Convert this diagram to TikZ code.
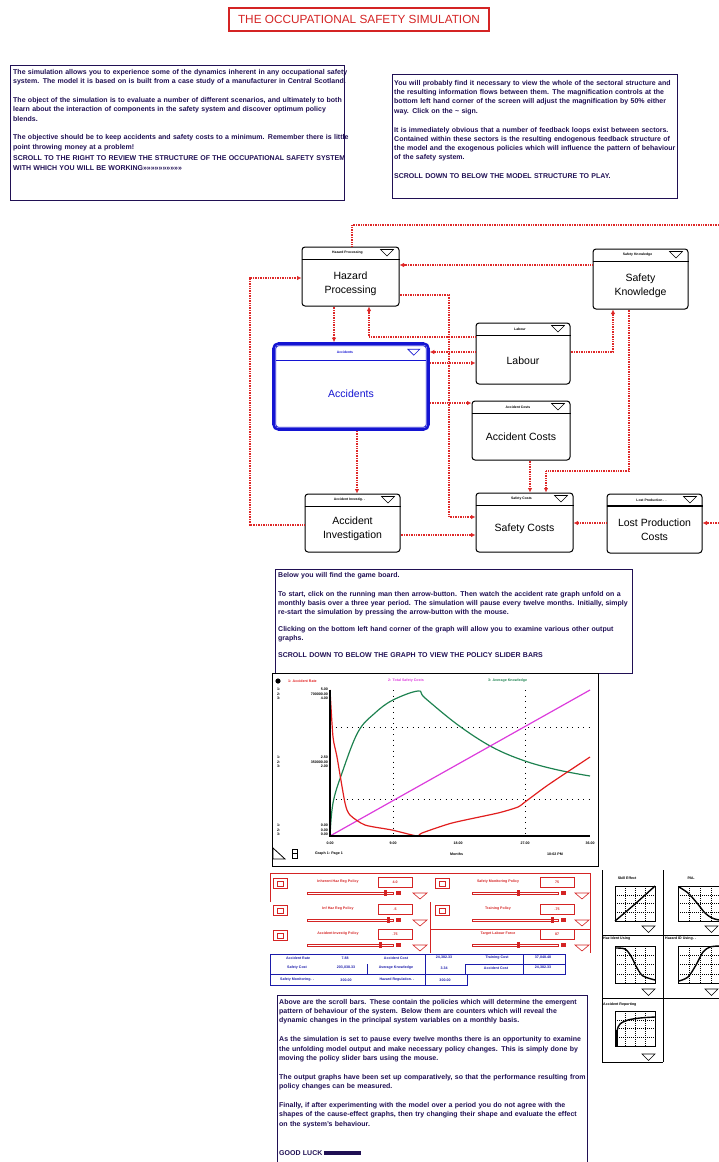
\documentclass[tikz,border=0pt]{standalone}
\usepackage{fontspec}
\setsansfont{Liberation Sans}
\usetikzlibrary{arrows.meta, positioning, calc}

\definecolor{ink}{RGB}{32,16,84}
\definecolor{linkred}{RGB}{222,40,40}
\definecolor{accblue}{RGB}{20,20,210}
\definecolor{ctrred}{RGB}{212,36,36}
\definecolor{ctrblue}{RGB}{28,28,170}
\definecolor{rateline}{RGB}{225,30,30}
\definecolor{costline}{RGB}{220,60,220}
\definecolor{knowline}{RGB}{30,130,80}

\hyphenpenalty=10000
\exhyphenpenalty=10000

% header strip of a sector window
\newcommand\pickdown[1]{\draw[line width=0.6pt, fill=white] (#1) -- ++(13,0) -- ++(-6.5,6.5) -- cycle;}
\newcommand\sechead[2]{%
  \draw[line width=0.8pt] ([yshift=-13pt]#1.north west) -- ([yshift=-13pt]#1.north east);
  \node[headtxt] (#1head) at ([yshift=-6.5pt,xshift=-3pt]#1.north) {#2};
  \pickdown{[xshift=-19pt,yshift=-3pt]#1.north east}}
% little cause-effect graph
\newcommand\minichart[4]{%
  \draw[line width=0.8pt] (#1,#2) rectangle ++(#3,#4);
  \foreach \q in {0.25,0.5,0.75}{
    \draw[line width=0.5pt, dash pattern=on 0.8pt off 1.2pt] ({#1+\q*#3},#2) -- ++(0,#4);
    \draw[line width=0.5pt, dash pattern=on 0.8pt off 1.2pt] (#1,{#2+\q*#4}) -- ++(#3,0);}}
\newcommand\pgap{\\[9.6pt]}

\begin{document}
\begin{tikzpicture}[x=1pt, y=-1pt,
  panel/.style={draw=ink, line width=1pt, anchor=north west, inner sep=0pt},
  blurb/.style={anchor=north west, inner sep=0pt, align=left, text=ink,
                font=\sffamily\bfseries\fontsize{7}{9.3}\selectfont},
  sector/.style={draw, line width=1pt, rounded corners=3pt, fill=white, inner sep=0pt},
  headtxt/.style={font=\sffamily\bfseries\fontsize{3.4}{4}\selectfont, inner sep=0pt},
  sectxt/.style={font=\sffamily\fontsize{10.5}{14}\selectfont, align=center, inner sep=0pt},
  link/.style={draw=linkred, line width=1.3pt, dash pattern=on 1pt off 0.7pt,
               -{Latex[length=4.5pt,width=4.5pt]}},
  smalltxt/.style={font=\sffamily\bfseries\fontsize{3.6}{4.6}\selectfont, inner sep=0pt},
  slidertxt/.style={smalltxt, text=ctrred},
  countertxt/.style={smalltxt, text=ctrblue},
  gridline/.style={line width=0.8pt, dash pattern=on 1pt off 4.5pt},
  curve/.style={line width=1.2pt}
]
  \useasboundingbox (0,0) rectangle (719,1162);
  \clip (0,0) rectangle (719,1162);

  \node[draw=ctrred, line width=1.3pt, text=ctrred, inner sep=0pt,
        font=\sffamily\fontsize{11.8}{13}\selectfont,
        minimum width=260, minimum height=23] (title) at (359,19.5)
        {THE OCCUPATIONAL SAFETY SIMULATION};

  % introduction texts
  \node[panel, minimum width=334, minimum height=135] (introbox) at (10,65) {};
  \node[blurb, text width=336] (intro) at (13,69)
    {The simulation allows you to experience some of the dynamics inherent in any occupational safety
     system. The model it is based on is built from a case study of a manufacturer in Central Scotland.\pgap
     The object of the simulation is to evaluate a number of different scenarios, and ultimately to both
     learn about the interaction of components in the safety system and discover optimum policy blends.\pgap
     The objective should be to keep accidents and safety costs to a minimum. Remember there is
     little point throwing money at a problem!\\[2.4pt]
     SCROLL TO THE RIGHT TO REVIEW THE STRUCTURE OF THE OCCUPATIONAL SAFETY
     SYSTEM WITH WHICH YOU WILL BE WORKING>>>>>>>>>>>>>>>>>>>>};

  \node[panel, minimum width=285, minimum height=124] (viewbox) at (392,74) {};
  \node[blurb, text width=282] (view) at (394,80)
    {You will probably find it necessary to view the whole of the sectoral structure and
     the resulting information flows between them. The magnification controls at the
     bottom left hand corner of the screen will adjust the magnification by 50\% either
     way. Click on the \textasciitilde\ sign.\pgap
     It is immediately obvious that a number of feedback loops exist between sectors.
     Contained within these sectors is the resulting endogenous feedback structure of
     the model and the exogenous policies which will influence the pattern of behaviour
     of the safety system.\pgap
     SCROLL DOWN TO BELOW THE MODEL STRUCTURE TO PLAY.};

  % model sectors
  \node[sector, minimum width=97, minimum height=59] (hp)  at (350.5,276.5) {};
  \node[sector, minimum width=95, minimum height=60] (sk)  at (640.5,279) {};
  \node[sector, minimum width=94, minimum height=61] (lab) at (523,353.5) {};
  \node[sector, minimum width=98, minimum height=59] (ac)  at (521,430.5) {};
  \node[sector, minimum width=95, minimum height=58] (ai)  at (352.5,523) {};
  \node[sector, minimum width=97, minimum height=59] (sc)  at (524.5,522.5) {};
  \node[sector, minimum width=95, minimum height=59] (lp)  at (654.5,523.5) {};
  \node[sector, draw=accblue, line width=2.6pt, rounded corners=5pt,
        minimum width=155, minimum height=86] (acc) at (351,386.5) {};
  \draw[accblue, line width=0.8pt, rounded corners=3pt]
    ([shift={(3.5pt,-3.5pt)}]acc.north west) rectangle ([shift={(-3.5pt,3.5pt)}]acc.south east);
  \draw[accblue, line width=0.8pt]
    ([shift={(3.5pt,-18pt)}]acc.north west) -- ([shift={(-3.5pt,-18pt)}]acc.north east);
  \node[headtxt, text=accblue] (acchead) at ([yshift=-10pt,xshift=-6pt]acc.north) {Accidents};
  \draw[accblue, line width=0.6pt, fill=white]
    ([xshift=-22pt,yshift=-7pt]acc.north east) -- ++(12,0) -- ++(-6,6) -- cycle;

  \sechead{hp}{Hazard Processing}
  \sechead{sk}{Safety Knowledge}
  \sechead{lab}{Labour}
  \sechead{ac}{Accident Costs}
  \sechead{ai}{Accident Investig. .}
  \sechead{sc}{Safety Costs}
  \sechead{lp}{Lost Production . .}
  \draw[line width=0.8pt] ([yshift=-11.5pt]lp.north west) -- ([yshift=-11.5pt]lp.north east);

  \node[sectxt] (hptxt)  at ($(hp.center)+(0,7.5)$)  {Hazard\\Processing};
  \node[sectxt] (sktxt)  at ($(sk.center)+(0,7)$)    {Safety\\Knowledge};
  \node[sectxt] (labtxt) at ($(lab.center)+(0,7)$)   {Labour};
  \node[sectxt, text=accblue] (acctxt) at ($(acc.center)+(0,7)$) {Accidents};
  \node[sectxt] (actxt)  at ($(ac.center)+(0,6)$)    {Accident Costs};
  \node[sectxt] (aitxt)  at ($(ai.center)+(0,6)$)    {Accident\\Investigation};
  \node[sectxt] (sctxt)  at ($(sc.center)+(0,6)$)    {Safety Costs};
  \node[sectxt] (lptxt)  at ($(lp.center)+(0,6.5)$)  {Lost Production\\Costs};

  % information links
  \coordinate (offtop) at (719,225);
  \coordinate (offright) at (719,523);
  \draw[link, -] (hp.north -| 352,0) |- (offtop);
  \draw[link] (sk.west |- 0,265) -- (hp.east |- 0,265);
  \draw[link] (ai.west |- 0,525) -- (250,525) |- (hp.west |- 0,278);
  \draw[link] (hp.south -| 334,0) -- (acc.north -| 334,0);
  \draw[link] (lab.west |- 0,337) -| (hp.south -| 369,0);
  \draw[link] (lab.west |- 0,352) -- (acc.east |- 0,352);
  \draw[link] (acc.east |- 0,363) -- (lab.west |- 0,363);
  \draw[link] (lab.east |- 0,352) -| (sk.south -| 613,0);
  \draw[link] (hp.east |- 0,295) -| (449,517) -- (sc.west |- 0,517);
  \draw[link] (acc.east |- 0,403) -- (ac.west |- 0,403);
  \draw[link] (acc.south -| 357,0) -- (ai.north -| 357,0);
  \draw[link] (ac.south -| 530,0) -- (sc.north -| 530,0);
  \draw[link] (sk.south -| 629,0) |- (546,471) -- (sc.north -| 546,0);
  \draw[link] (ai.east |- 0,535) -- (sc.west |- 0,535);
  \draw[link] (lp.west |- 0,523) -- (sc.east |- 0,523);
  \draw[link] (offright) -- (lp.east |- 0,523);

  % game board text
  \node[panel, minimum width=357, minimum height=104] (boardbox) at (275,569) {};
  \node[blurb, text width=352] (board) at (278,572)
    {Below you will find the game board.\pgap
     To start, click on the running man then arrow-button. Then watch the accident rate graph unfold
     on a monthly basis over a three year period. The simulation will pause every twelve months.
     Initially, simply re-start the simulation by pressing the arrow-button with the mouse.\\[7pt]
     Clicking on the bottom left hand corner of the graph will allow you to examine various other output
     graphs.\\[8pt]
     SCROLL DOWN TO BELOW THE GRAPH TO VIEW THE POLICY SLIDER BARS};

  % output graph
  \node[draw, line width=1pt, anchor=north west, inner sep=0pt,
        minimum width=326, minimum height=193] (graphwin) at (272,673) {};
  \fill (278,681) circle (2.6);
  \node[smalltxt, text=rateline, anchor=west] (leg1) at (288,681) {1: Accident Rate};
  \node[smalltxt, text=costline, anchor=west] (leg2) at (388,681) {2: Total Safety Costs};
  \node[smalltxt, text=knowline, anchor=west] (leg3) at (488,681) {3: Average Knowledge};
  \foreach \gx in {393,525}
    \draw[gridline] (\gx,690) -- (\gx,836);
  \foreach \gy in {727,799}
    \draw[gridline] (330,\gy) -- (590,\gy);
  \foreach \gy/\ta/\tb/\tc in {694/5.00/700000.00/4.00, 762/2.50/350000.00/2.00, 830/0.00/0.00/0.00}{
    \node[smalltxt, align=left, anchor=west] (ylab\gy) at (277,\gy) {1:\\2:\\3:};
    \node[smalltxt, align=right, anchor=east] (yval\gy) at (328,\gy) {\ta\\\tb\\\tc};}
  \draw[curve, knowline] plot[smooth, tension=0.6] coordinates {(330,836) (333,803) (342,773)
    (358,732) (375,713) (393,700) (418,691) (425,698) (458,725) (492,747) (525,761) (558,770) (590,776)};
  \draw[curve, costline] (330,836) -- (590,690);
  \draw[curve, rateline] plot[smooth, tension=0.4] coordinates {(330,690) (333,737) (337,757)
    (345,803) (350,815) (365,825) (392,830) (417,836) (422,833) (452,823) (498,813) (518,807)
    (525,802) (548,785) (590,757)};
  \draw[line width=1.6pt] (330,690) -- (330,836) -- (590,836);
  \foreach \lx/\lt in {330/0.00, 393/9.00, 458/18.00, 525/27.00, 590/36.00}
    \node[smalltxt] (xlab\lx) at (\lx,843) {\lt};
  \draw[line width=0.8pt] (273,848) -- (273,859) -- (285,859) -- cycle;
  \draw[line width=0.8pt] (292,849) rectangle (297,858) (292,853) -- (297,853);
  \node[smalltxt, anchor=west] (pagelab) at (315,854) {Graph 1: Page 1};
  \node[smalltxt, anchor=west] (unitlab) at (450,854) {Months};
  \node[smalltxt, anchor=west] (timelab) at (547,854) {10:02 PM};

  % policy slider bars
  \draw[ctrred, line width=0.8pt] (270,902) |- (590,873) -- (590,953);
  \draw[ctrred, line width=0.8pt] (430,902) -- (430,953) (430,929) -- (590,929);
  \foreach \ix/\lx/\ly/\vx/\val/\bx/\th/\ptxt [count=\i] in
     {273/338/882/378/4.0/307/385/Inherent Haz Reg Policy,
      273/338/909/378/.5/307/388/Inf Haz Reg Policy,
      273/338/934/378/.75/307/380/Accident Investig Policy,
      435/498/882/540/75/472/518/Safety Monitoring Policy,
      435/498/909/540/.75/472/552/Training Policy,
      0/498/934/540/87/472/518/Target Labour Force}{
    \ifnum\ix>0
      \draw[ctrred, line width=0.8pt] (\ix,\ly-4) rectangle ++(14,10);
      \draw[ctrred, line width=0.6pt] (\ix+4,\ly-1) rectangle ++(6,5);
    \fi
    \node[slidertxt] (pol\i) at (\lx,\ly) {\ptxt};
    \draw[ctrred, line width=0.8pt] (\vx,\ly-5) rectangle ++(34,10);
    \node[slidertxt] (polval\i) at (\vx+17,\ly) {\val};
    \draw[ctrred, line width=0.6pt] (\bx,\ly+10) rectangle ++(86,2);
    \fill[ctrred] (\th-1,\ly+8) rectangle ++(2.5,6);
    \fill[ctrred] (\bx+89,\ly+9) rectangle ++(5,4);
    \draw[ctrred, line width=0.6pt, fill=white] (\vx+35,\ly+11) -- ++(14,0) -- ++(-7,6) -- cycle;}

  % counters
  \draw[ctrblue, line width=0.8pt] (270,954) rectangle (565,974) (270,974) rectangle (467,985);
  \draw[ctrblue, line width=0.8pt] (425,954) -- (425,985) (523,954) -- (523,974)
    (465,964) -- (565,964) (465,964) -- (465,974) (367,964) -- (367,974);
  \foreach \cx/\cy/\ctext [count=\i] in
     {298/958/Accident Rate, 345/958/7.88, 396/958/Accident Cost, 444/958/{24,382.33},
      497/958/Training Cost, 543/958/{37,048.48},
      297/968/Safety Cost, 346/968/{203,038.33}, 396/968/Average Knowledge, 444/968/3.34,
      496/968/Accident Cost, 543/968/{24,382.33},
      297/980/Safety Monitoring. ., 346/980/300.00, 397/980/Hazard Regulation. ., 445/980/300.00}
    \node[countertxt] (ctr\i) at (\cx,\cy) {\ctext};

  % cause-effect graphs
  \draw[line width=0.8pt] (602,870) -- (602,1062) -- (663,1062) (663,870) -- (663,1062)
    (602,935) -- (719,935) (602,998) -- (719,998);
  \minichart{615}{886}{40}{35}
  \minichart{678}{886}{44}{35}
  \minichart{615}{946}{40}{37}
  \minichart{678}{946}{44}{37}
  \minichart{615}{1011}{40}{35}
  \node[smalltxt] (fx1) at (627,878) {Skill Effect};
  \node[smalltxt] (fx2) at (691,878) {PAL};
  \node[smalltxt, anchor=west] (fx3) at (603,939) {Haz Ident Using};
  \node[smalltxt, anchor=west] (fx4) at (665,939) {Hazard ID Using. .};
  \node[smalltxt, anchor=west] (fx5) at (603,1005) {Accident Reporting};
  \draw[line width=1.4pt] plot[smooth] coordinates {(615,921) (635,904) (655,886)};
  \draw[line width=1.4pt] plot[smooth] coordinates {(679,887) (688,893) (697,903) (705,913) (712,918) (719,920)};
  \draw[line width=1.4pt] plot[smooth] coordinates {(616,948) (625,949) (631,956) (637,968) (643,976) (655,980)};
  \draw[line width=1.4pt] plot[smooth] coordinates {(679,981) (688,977) (696,965) (703,952) (710,947) (719,946)};
  \draw[line width=1.4pt] plot[smooth] coordinates {(616,1045) (617,1031) (620,1024) (628,1020) (640,1018) (655,1017)};
  \fill (615,1030) rectangle (618,1046);
  \pickdown{642,926}
  \pickdown{705,926}
  \pickdown{642,989}
  \pickdown{705,989}
  \pickdown{642,1054}

  % instructions
  \node[panel, minimum width=310, minimum height=200] (helpbox) at (277,995) {};
  \node[blurb, text width=307] (help) at (279,999)
    {Above are the scroll bars. These contain the policies which will determine the emergent
     pattern of behaviour of the system. Below them are counters which will reveal the dynamic
     changes in the principal system variables on a monthly basis.\pgap
     As the simulation is set to pause every twelve months there is an opportunity to examine
     the unfolding model output and make necessary policy changes. This is simply done by
     moving the policy slider bars using the mouse.\pgap
     The output graphs have been set up comparatively, so that the performance resulting from
     policy changes can be measured.\pgap
     Finally, if after experimenting with the model over a period you do not agree with the
     shapes of the cause-effect graphs, then try changing their shape and evaluate the effect on
     the system's behaviour.\\[19.7pt]
     GOOD LUCK\,\rule{37pt}{4.5pt}};
\end{tikzpicture}
\end{document}
